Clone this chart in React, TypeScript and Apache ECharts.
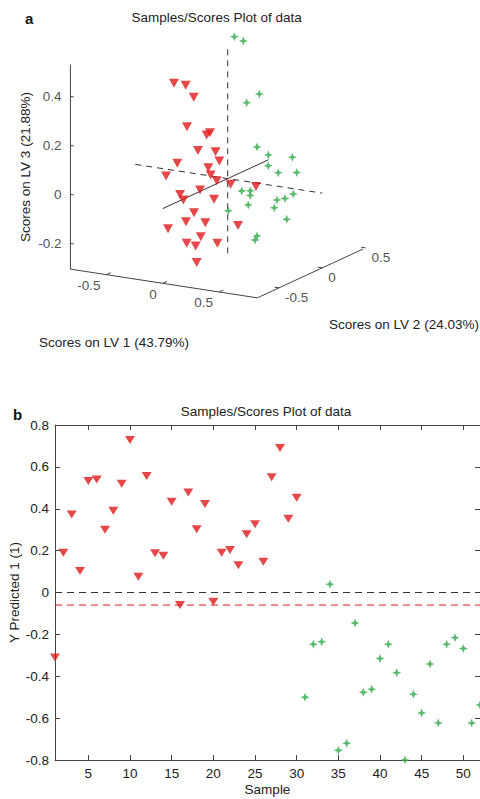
import React, { useEffect, useRef } from 'react';
import * as echarts from 'echarts';

// ---------- Panel a: 3-D scores (LV1, LV2, LV3) ----------
const redLV1 = [-0.554, -0.527, -0.34, -0.554, -0.302, -0.388, -0.264, -0.185, -0.409, -0.228, -0.586, -0.403, -0.228, -0.213, -0.166, -0.169, -0.577, -0.394, -0.352, -0.018, -0.376, -0.332, -0.314, -0.453, -0.062, -0.278, -0.364, -0.246, -0.169, -0.045];
const redLV2 = [0.1, 0.2, 0.05, 0.25, 0.15, 0.3, 0.0, 0.1, -0.05, 0.2, 0.05, 0.3, 0.1, 0.15, 0.25, -0.1, 0.2, 0.0, 0.3, 0.35, 0.1, -0.05, 0.15, -0.1, 0.2, 0.05, 0.0, -0.05, 0.1, -0.3];
const redLV3 = [0.334, 0.311, 0.3, 0.132, 0.132, 0.111, 0.096, 0.08, 0.042, 0.023, -0.039, -0.033, -0.018, -0.048, -0.076, -0.042, -0.138, -0.115, -0.158, -0.091, -0.182, -0.191, -0.227, -0.22, -0.228, -0.265, -0.29, -0.284, -0.292, -0.297];

const greenLV1 = [-0.287, -0.169, 0.05, 0.015, 0.183, 0.361, 0.497, 0.437, 0.411, 0.459, 0.278, 0.316, 0.431, 0.467, 0.547, 0.438, 0.452, 0.568, 0.313, 0.601, 0.606, 0.55];
const greenLV2 = [0.45, 0.4, 0.3, 0.2, 0.1, 0.0, 0.1, -0.1, 0.05, 0.2, -0.2, -0.15, -0.3, 0.15, -0.05, 0.0, -0.35, -0.2, -0.4, -0.1, -0.45, -0.4];
const greenLV3 = [0.485, 0.484, 0.3, 0.278, 0.126, 0.122, 0.106, 0.1, 0.045, 0.025, 0.002, -0.003, 0.01, -0.054, -0.034, -0.056, -0.019, -0.046, -0.044, -0.107, -0.118, -0.146];

const lv1Limits = [-0.82, 0.84];
const lv2Limits = [-0.75, 0.47];
const lv3Limits = [-0.305, 0.53];
const lv1Ticks = [-0.5, 0, 0.5];
const lv2Ticks = [-0.5, 0, 0.5];
const lv3Ticks = [-0.2, 0, 0.2, 0.4];

// ---------- Panel b: Y predicted per sample ----------
const redSamples = [1, 2, 3, 4, 5, 6, 7, 8, 9, 10, 11, 12, 13, 14, 15, 16, 17, 18, 19, 20, 21, 22, 23, 24, 25, 26, 27, 28, 29, 30];
const redYPred = [-0.31, 0.19, 0.373, 0.103, 0.532, 0.54, 0.3, 0.39, 0.52, 0.728, 0.075, 0.556, 0.187, 0.176, 0.434, -0.06, 0.478, 0.302, 0.423, -0.044, 0.19, 0.203, 0.13, 0.278, 0.326, 0.147, 0.55, 0.69, 0.352, 0.453];
const greenSamples = [31, 32, 33, 34, 35, 36, 37, 38, 39, 40, 41, 42, 43, 44, 45, 46, 47, 48, 49, 50, 51, 52];
const greenYPred = [-0.5, -0.247, -0.235, 0.039, -0.754, -0.72, -0.146, -0.477, -0.462, -0.315, -0.247, -0.383, -0.8, -0.486, -0.575, -0.342, -0.623, -0.247, -0.216, -0.267, -0.623, -0.537];
const threshold = -0.06;
const sampleTicks = [5, 10, 15, 20, 25, 30, 35, 40, 45, 50];

const FONT = '"Liberation Sans", Arial, Helvetica, sans-serif';
const FS = 13.5;
const RED = '#e01a1c';
const GREEN = '#2eaa48';
const AXIS = '#444';
const TXT = '#222';
const STAR = 'path://M5,0 L6.4,3.6 L10,5 L6.4,6.4 L5,10 L3.6,6.4 L0,5 L3.6,3.6 Z';

// view (oblique projection) of the 3-D box into the hidden 2-D plane of panel a
const VIEW = { ox: 227.7, oy: 178.6, e1: [112.6, 17.3], e2: [86.6, -40], e3: [0, -245] };
function proj(a: number, b: number, c: number): number[] {
  return [
    VIEW.ox + VIEW.e1[0] * a + VIEW.e2[0] * b + VIEW.e3[0] * c,
    VIEW.oy + VIEW.e1[1] * a + VIEW.e2[1] * b + VIEW.e3[1] * c,
  ];
}

function seg(p: number[][], color: string, dashed: boolean, width = 1): any {
  return {
    type: 'line', xAxisIndex: 0, yAxisIndex: 0, silent: true, symbol: 'none', z: 1,
    data: p.map((q) => proj(q[0], q[1], q[2])),
    lineStyle: { color, width, type: dashed ? [6, 5] : 'solid' },
  };
}

function tickLabels(pts: { p: number[]; t: string }[], align: string, offset: number[]): any {
  return {
    type: 'scatter', xAxisIndex: 0, yAxisIndex: 0, silent: true, symbolSize: 1, z: 2,
    itemStyle: { color: 'rgba(0,0,0,0)' },
    data: pts.map((d) => ({ name: d.t, value: proj(d.p[0], d.p[1], d.p[2]) })),
    label: {
      show: true, position: 'inside', formatter: '{b}', align, verticalAlign: 'middle', offset,
      color: TXT, fontSize: FS, fontFamily: FONT,
    },
  };
}

export default function App() {
  const ref = useRef<HTMLDivElement>(null);
  useEffect(() => {
    if (!ref.current) return;
    const chart = echarts.init(ref.current, null, { renderer: 'svg' });
    const [l1a, l1b] = lv1Limits;
    const [l2a, l2b] = lv2Limits;
    const [l3a, l3b] = lv3Limits;

    const series: any[] = [];
    // 3-D axes
    series.push(seg([[l1a, l2a, l3a], [l1a, l2a, l3b]], AXIS, false));
    series.push(seg([[l1a, l2a, l3a], [l1b, l2a, l3a]], AXIS, false));
    series.push(seg([[l1b, l2a, l3a], [l1b, l2b, l3a]], AXIS, false));
    lv3Ticks.forEach((t) => series.push(seg([[l1a, l2a, t], [l1a + 0.03, l2a, t]], AXIS, false)));
    lv1Ticks.forEach((t) => series.push(seg([[t, l2a, l3a], [t, l2a + 0.05, l3a]], AXIS, false)));
    lv2Ticks.forEach((t) => series.push(seg([[l1b, t, l3a], [l1b - 0.04, t, l3a]], AXIS, false)));
    // origin lines
    series.push(seg([[0, 0, l3a], [0, 0, l3b]], '#333', true));
    series.push(seg([[l1a, 0, 0], [l1b, 0, 0]], '#333', true));
    series.push(seg([[0, l2a, 0], [0, l2b, 0]], '#333', false));
    // tick labels
    series.push(tickLabels(lv3Ticks.map((t) => ({ p: [l1a, l2a, t], t: String(t) })), 'right', [-9, 0]));
    series.push(tickLabels(lv1Ticks.map((t) => ({ p: [t, l2a, l3a], t: String(t) })), 'right', [-6, 11]));
    series.push(tickLabels(lv2Ticks.map((t) => ({ p: [l1b, t, l3a], t: String(t) })), 'left', [6, 10]));
    // scores
    series.push({
      type: 'scatter', xAxisIndex: 0, yAxisIndex: 0, z: 3, symbol: 'triangle', symbolRotate: 180,
      symbolSize: [10, 9], itemStyle: { color: RED },
      data: redLV1.map((v, i) => proj(v, redLV2[i], redLV3[i])),
    });
    series.push({
      type: 'scatter', xAxisIndex: 0, yAxisIndex: 0, z: 3, symbol: STAR,
      symbolSize: 9, itemStyle: { color: GREEN },
      data: greenLV1.map((v, i) => proj(v, greenLV2[i], greenLV3[i])),
    });

    // Panel b
    series.push({
      type: 'line', xAxisIndex: 1, yAxisIndex: 1, symbol: 'none', silent: true, z: 1,
      data: [[1, 0], [52, 0]], lineStyle: { color: '#333', width: 1, type: [7, 5] },
    });
    series.push({
      type: 'line', xAxisIndex: 1, yAxisIndex: 1, symbol: 'none', silent: true, z: 1,
      data: [[1, threshold], [52, threshold]], lineStyle: { color: RED, width: 1, type: [7, 5] },
    });
    series.push({
      type: 'scatter', xAxisIndex: 1, yAxisIndex: 1, z: 3, symbol: 'triangle', symbolRotate: 180,
      symbolSize: [10, 8], itemStyle: { color: RED },
      data: redSamples.map((s, i) => [s, redYPred[i]]),
    });
    series.push({
      type: 'scatter', xAxisIndex: 1, yAxisIndex: 1, z: 3, symbol: STAR,
      symbolSize: 9, itemStyle: { color: GREEN },
      data: greenSamples.map((s, i) => [s, greenYPred[i]]),
    });

    const tickStyle = { inside: true, length: 5, lineStyle: { color: AXIS } };
    const labelStyle = { color: TXT, fontSize: FS, fontFamily: FONT };

    chart.setOption({
      animation: false,
      backgroundColor: '#fff',
      textStyle: { fontFamily: FONT },
      title: [
        { text: 'a', left: 20, top: 6, textStyle: { fontSize: 15, fontWeight: 'bold', color: '#111', fontFamily: FONT } },
        { text: 'Samples/Scores Plot of data', left: 216.7, top: 10, textAlign: 'center', padding: 0, textStyle: { fontSize: FS, fontWeight: 'normal', color: TXT, fontFamily: FONT } },
        { text: 'b', left: 8, top: 402, textStyle: { fontSize: 15, fontWeight: 'bold', color: '#111', fontFamily: FONT } },
        { text: 'Samples/Scores Plot of data', left: 266, top: 404, textAlign: 'center', padding: 0, textStyle: { fontSize: FS, fontWeight: 'normal', color: TXT, fontFamily: FONT } },
      ],
      graphic: [
        { type: 'text', x: 114, y: 342, style: { text: 'Scores on LV 1 (43.79%)', fill: TXT, font: `${FS}px ${FONT}`, textAlign: 'center', textVerticalAlign: 'middle' } },
        { type: 'text', x: 404, y: 324, style: { text: 'Scores on LV 2 (24.03%)', fill: TXT, font: `${FS}px ${FONT}`, textAlign: 'center', textVerticalAlign: 'middle' } },
        { type: 'text', x: 25, y: 167, rotation: Math.PI / 2, style: { text: 'Scores on LV 3 (21.88%)', fill: TXT, font: `${FS}px ${FONT}`, textAlign: 'center', textVerticalAlign: 'middle' } },
      ],
      grid: [
        { left: 0, top: 0, width: 480, height: 340, outerBoundsMode: 'none', containLabel: false },
        { left: 55, top: 425, right: 0, bottom: 39, outerBoundsMode: 'none', containLabel: false },
      ],
      xAxis: [
        { gridIndex: 0, type: 'value', min: 0, max: 480, show: false },
        {
          gridIndex: 1, type: 'value', min: 1, max: 52, position: 'bottom',
          axisLine: { onZero: false, lineStyle: { color: AXIS } },
          axisTick: { ...tickStyle, customValues: sampleTicks },
          axisLabel: { ...labelStyle, margin: 6, customValues: sampleTicks },
          splitLine: { show: false },
          name: 'Sample', nameLocation: 'middle', nameGap: 22, nameMoveOverlap: false,
          nameTextStyle: { ...labelStyle },
        },
        {
          gridIndex: 1, type: 'value', min: 1, max: 52, position: 'top',
          axisLine: { onZero: false, lineStyle: { color: AXIS } },
          axisTick: { ...tickStyle, customValues: sampleTicks },
          axisLabel: { show: false },
          splitLine: { show: false },
        },
      ],
      yAxis: [
        { gridIndex: 0, type: 'value', min: 0, max: 340, inverse: true, show: false },
        {
          gridIndex: 1, type: 'value', min: -0.8, max: 0.8, interval: 0.2, position: 'left',
          axisLine: { show: true, onZero: false, lineStyle: { color: AXIS } },
          axisTick: { show: true, ...tickStyle },
          axisLabel: { ...labelStyle, margin: 6 },
          splitLine: { show: false },
          name: 'Y Predicted 1 (1)', nameLocation: 'middle', nameGap: 34, nameMoveOverlap: false,
          nameTextStyle: { ...labelStyle },
        },
        {
          gridIndex: 1, type: 'value', min: -0.8, max: 0.8, interval: 0.2, position: 'right',
          axisLine: { show: true, onZero: false, lineStyle: { color: AXIS } },
          axisTick: { show: true, ...tickStyle },
          axisLabel: { show: false },
          splitLine: { show: false },
        },
      ],
      series,
    });
    return () => chart.dispose();
  }, []);
  return <div ref={ref} style={{ position: 'absolute', left: 0, top: 0, width: 480, height: 799, background: '#fff' }} />;
}
